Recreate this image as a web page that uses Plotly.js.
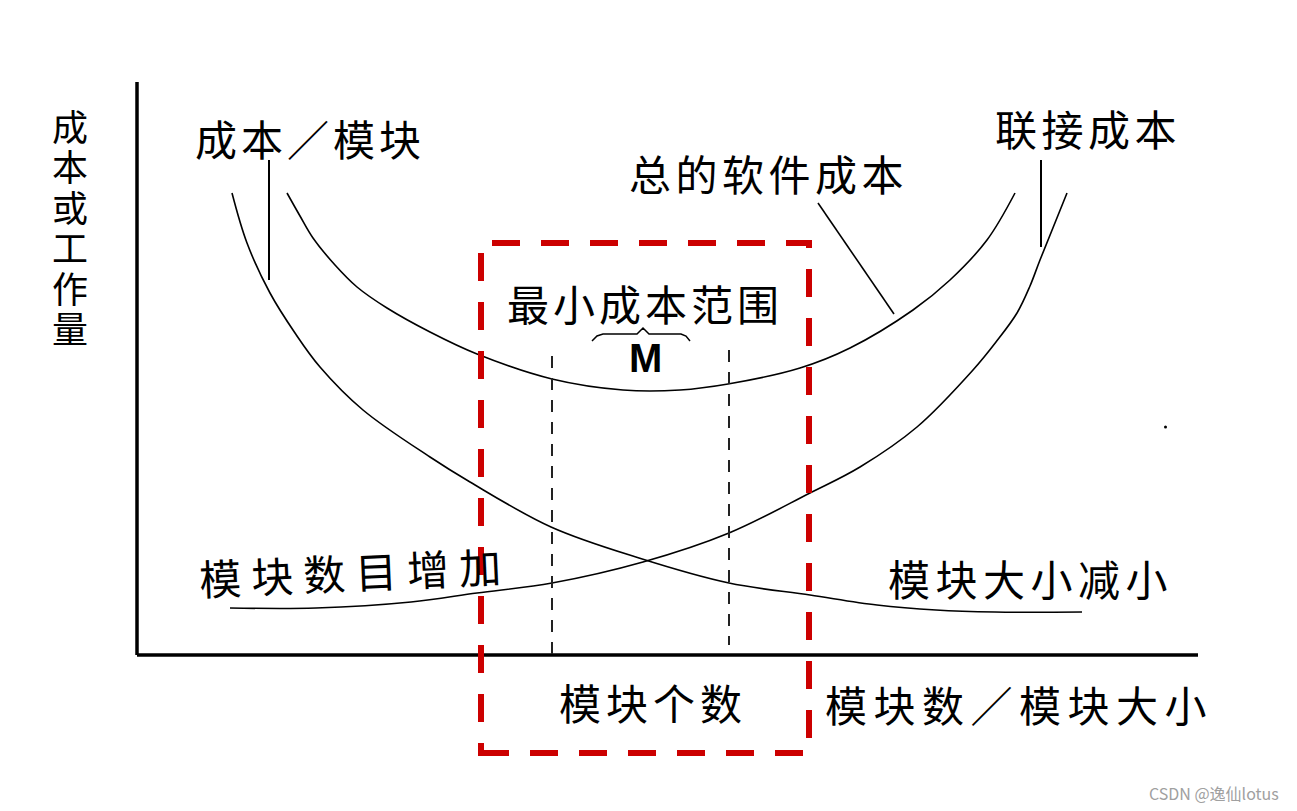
<!DOCTYPE html>
<html>
<head>
<meta charset="utf-8">
<script src="https://cdn.plot.ly/plotly-3.0.1.min.js"></script>
<style>
html,body{margin:0;padding:0;background:#fff;overflow:hidden}
#chart{width:1297px;height:811px}
</style>
</head>
<body>
<div id="chart"></div>
<script>
// ---- Data (conceptual units: x = number of modules, y = cost / effort) ----
const costPerModuleX = [0.95, 1.10, 1.33, 1.58, 1.83, 2.26, 2.93, 3.33, 4.14, 5.02, 5.92, 6.73, 7.40, 7.99, 8.58, 9.45];
const costPerModuleY = [4.62, 4.12, 3.62, 3.22, 2.88, 2.45, 1.98, 1.73, 1.28, 0.97, 0.72, 0.60, 0.50, 0.45, 0.43, 0.43];

const totalCostX = [1.50, 1.63, 1.76, 1.98, 2.20, 2.50, 2.93, 3.40, 4.15, 4.86, 5.43, 5.91, 6.63, 7.13, 7.76, 8.13, 8.50, 8.78];
const totalCostY = [4.62, 4.39, 4.17, 3.90, 3.68, 3.47, 3.23, 3.01, 2.76, 2.65, 2.65, 2.71, 2.87, 3.07, 3.45, 3.75, 4.15, 4.62];

const integrationCostX = [0.93, 1.79, 2.74, 3.40, 4.15, 5.06, 5.92, 6.73, 7.23, 7.80, 8.36, 8.59, 8.80, 8.93, 9.03, 9.30];
const integrationCostY = [0.47, 0.47, 0.53, 0.62, 0.72, 0.93, 1.22, 1.62, 1.88, 2.28, 2.85, 3.13, 3.42, 3.69, 3.95, 4.62];

const minCostRange = [4.15, 5.92];          // M : bounds of the minimum-cost region
const minCostRangeTop = 2.99;

// ---- Text ----
const yAxisLabelChars = ['成', '本', '或', '工', '作', '量'];
const labelCostPerModule = '成本／模块';
const labelTotalCost = '总的软件成本';
const labelIntegrationCost = '联接成本';
const labelMinRange = '最小成本范围';
const labelM = 'M';
const labelModulesIncrease = '模块数目增加';
const labelSizeDecrease = '模块大小减小';
const labelModuleCount = '模块个数';
const labelXAxis = '模块数／模块大小';
const watermark = 'CSDN @逸仙lotus';

// ---- Styles ----
const CJK = '"Noto Sans CJK SC", "Noto Sans", sans-serif';
const curveLine = {color: '#000', width: 1.6, shape: 'spline', smoothing: 1};

function sp(text, px) {
  return '<span style="letter-spacing:' + px + 'px">' + text + '</span>';
}
function txt(text, x, y, size, spacing, extra) {
  return Object.assign({
    x: x, y: y, xref: 'x', yref: 'y', showarrow: false,
    xanchor: 'center', yanchor: 'middle',
    text: spacing ? sp(text, spacing) : text,
    font: {family: CJK, size: size, color: '#000'}
  }, extra || {});
}

const traces = [
  {x: costPerModuleX, y: costPerModuleY, mode: 'lines', line: curveLine, hoverinfo: 'skip', name: '成本／模块'},
  {x: totalCostX, y: totalCostY, mode: 'lines', line: curveLine, hoverinfo: 'skip', name: '总的软件成本'},
  {x: integrationCostX, y: integrationCostY, mode: 'lines', line: curveLine, hoverinfo: 'skip', name: '联接成本'}
];

const shapes = [
  // axes
  {type: 'line', x0: 0, y0: 0, x1: 0, y1: 5.73, line: {color: '#000', width: 3.5}},
  {type: 'line', x0: 0, y0: 0, x1: 10.61, y1: 0, line: {color: '#000', width: 3.5}},
  // leader lines
  {type: 'line', x0: 1.32, y0: 4.95, x1: 1.32, y1: 3.75, line: {color: '#000', width: 2}},
  {type: 'line', x0: 6.81, y0: 4.52, x1: 7.57, y1: 3.41, line: {color: '#000', width: 1.6}},
  {type: 'line', x0: 9.04, y0: 4.95, x1: 9.04, y1: 4.08, line: {color: '#000', width: 2}},
  // M range dashed lines
  {type: 'line', x0: minCostRange[0], y0: minCostRangeTop, x1: minCostRange[0], y1: 0, line: {color: '#222', width: 2, dash: '12px,10px'}},
  {type: 'line', x0: minCostRange[1], y0: minCostRangeTop + 0.06, x1: minCostRange[1], y1: 0.1, line: {color: '#222', width: 2, dash: '12px,10px'}},
  // brace over M
  {type: 'path', path: 'M4.55,3.14 L4.60,3.19 L4.66,3.21 L5.00,3.21 L5.06,3.27 L5.12,3.21 L5.44,3.21 L5.49,3.19 L5.53,3.14', line: {color: '#000', width: 1.5}},
  // red dashed highlight box
  {type: 'rect', x0: 3.44, x1: 6.72, y0: -0.98, y1: 4.12, line: {color: '#cc0000', width: 6, dash: '28px,21px'}, fillcolor: 'rgba(0,0,0,0)'},
  // stray dot
  {type: 'circle', x0: 10.27, x1: 10.30, y0: 2.265, y1: 2.295, fillcolor: '#000', line: {width: 0}}
];

const annotations = [];
yAxisLabelChars.forEach(function (ch, i) {
  annotations.push(txt(ch, -0.67, 5.30 - i * 0.404, 36, 0, {height: 38, width: 40, borderpad: 0}));
});
annotations.push(txt(labelCostPerModule, 1.73, 5.18, 42, 4));
annotations.push(txt(labelTotalCost, 6.31, 4.83, 42, 4.5));
annotations.push(txt(labelIntegrationCost, 9.51, 5.28, 42, 4.5));
annotations.push(txt(labelMinRange, 5.08, 3.53, 42, 4));
annotations.push({x: 5.08, y: 2.97, xref: 'x', yref: 'y', showarrow: false, xanchor: 'center', yanchor: 'middle',
  text: '<b>' + labelM + '</b>', font: {family: 'Liberation Sans, Arial, sans-serif', size: 40, color: '#000'}});
annotations.push(txt(labelModulesIncrease, 2.18, 0.85, 42, 10, {textangle: -2.5}));
annotations.push(txt(labelSizeDecrease, 8.93, 0.78, 42, 5.5));
annotations.push(txt(labelModuleCount, 5.16, -0.46, 42, 5));
annotations.push(txt(labelXAxis, 8.82, -0.48, 42, 6.5));
annotations.push({x: 0.988, y: 0.022, xref: 'paper', yref: 'paper', showarrow: false, xanchor: 'right', yanchor: 'middle',
  text: watermark, font: {family: '"Noto Sans CJK SC", "Liberation Sans", sans-serif', size: 16, color: '#a0a0a0'}});

const layout = {
  width: 1297, height: 811,
  margin: {l: 0, r: 0, t: 0, b: 0, pad: 0},
  paper_bgcolor: '#fff', plot_bgcolor: '#fff',
  showlegend: false,
  xaxis: {range: [-1.37, 11.60], visible: false, fixedrange: true},
  yaxis: {range: [-1.56, 6.55], visible: false, fixedrange: true},
  shapes: shapes,
  annotations: annotations
};

Plotly.newPlot('chart', traces, layout, {displayModeBar: false, staticPlot: true});
</script>
</body>
</html>
